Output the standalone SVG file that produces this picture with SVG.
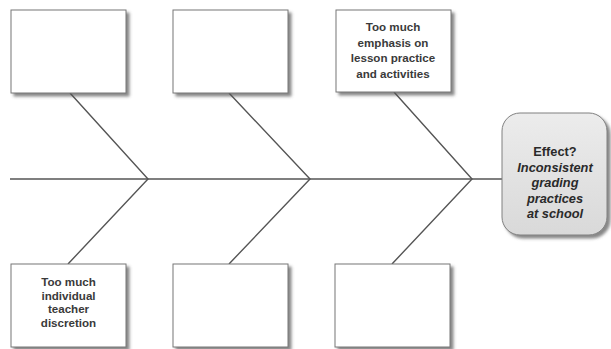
<svg xmlns="http://www.w3.org/2000/svg" width="611" height="349" viewBox="0 0 611 349">
  <style>
    .bone { stroke: #555; stroke-width: 1.4; fill: none; }
    .cause { fill: #fff; stroke: #777; stroke-width: 1; filter: url(#shadow); }
    .effect { fill: url(#effectFill); stroke: #808080; stroke-width: 1; filter: url(#shadow); }
    .label { font-family: "Liberation Sans", Arial, sans-serif; font-size: 11.6px; font-weight: bold; fill: #3a3a3a; text-anchor: middle; }
    .elabel { font-family: "Liberation Sans", Arial, sans-serif; font-size: 12.8px; font-weight: bold; fill: #2a2a2a; text-anchor: middle; }
    .em { font-style: italic; }
  </style>
  <defs>
    <filter id="shadow" x="-10%" y="-10%" width="125%" height="125%">
      <feDropShadow dx="3" dy="3" stdDeviation="1.5" flood-color="#555" flood-opacity="0.7"/>
    </filter>
    <linearGradient id="effectFill" x1="0" y1="0" x2="0" y2="1">
      <stop offset="0" stop-color="#ececec"/>
      <stop offset="1" stop-color="#d9d9d9"/>
    </linearGradient>
  </defs>

  <rect width="611" height="349" fill="#fff"/>

  <!-- spine and ribs -->
  <g id="connectors">
    <line class="bone" x1="10" y1="179" x2="502" y2="179"/>
    <polyline class="bone" points="70,93 148,179 68,264"/>
    <polyline class="bone" points="229,93 310,179 229,264"/>
    <polyline class="bone" points="394,92 472,179 392,264"/>
  </g>

  <!-- top causes -->
  <g id="cause-top-1">
    <rect class="cause" x="11" y="10" width="115" height="83"/>
  </g>
  <g id="cause-top-2">
    <rect class="cause" x="173" y="10" width="115" height="83"/>
  </g>
  <g id="cause-top-3">
    <rect class="cause" x="336" y="10" width="115" height="82"/>
    <text class="label" x="393" y="31">Too much</text>
    <text class="label" x="393" y="46.5">emphasis on</text>
    <text class="label" x="393" y="62">lesson practice</text>
    <text class="label" x="393" y="77.5">and activities</text>
  </g>

  <!-- bottom causes -->
  <g id="cause-bottom-1">
    <rect class="cause" x="11" y="264" width="115" height="83"/>
    <text class="label" x="68.5" y="286">Too much</text>
    <text class="label" x="68.5" y="299.5">individual</text>
    <text class="label" x="68.5" y="313">teacher</text>
    <text class="label" x="68.5" y="326.5">discretion</text>
  </g>
  <g id="cause-bottom-2">
    <rect class="cause" x="173" y="264" width="115" height="83"/>
  </g>
  <g id="cause-bottom-3">
    <rect class="cause" x="335" y="264" width="115" height="83"/>
  </g>

  <!-- effect head -->
  <g id="effect">
    <rect class="effect" x="502" y="113" width="105" height="122" rx="18" ry="18"/>
    <text class="elabel" x="555" y="156">Effect?</text>
    <text class="elabel em" x="555" y="171.5">Inconsistent</text>
    <text class="elabel em" x="555" y="187">grading</text>
    <text class="elabel em" x="555" y="202.5">practices</text>
    <text class="elabel em" x="555" y="218">at school</text>
  </g>
</svg>
